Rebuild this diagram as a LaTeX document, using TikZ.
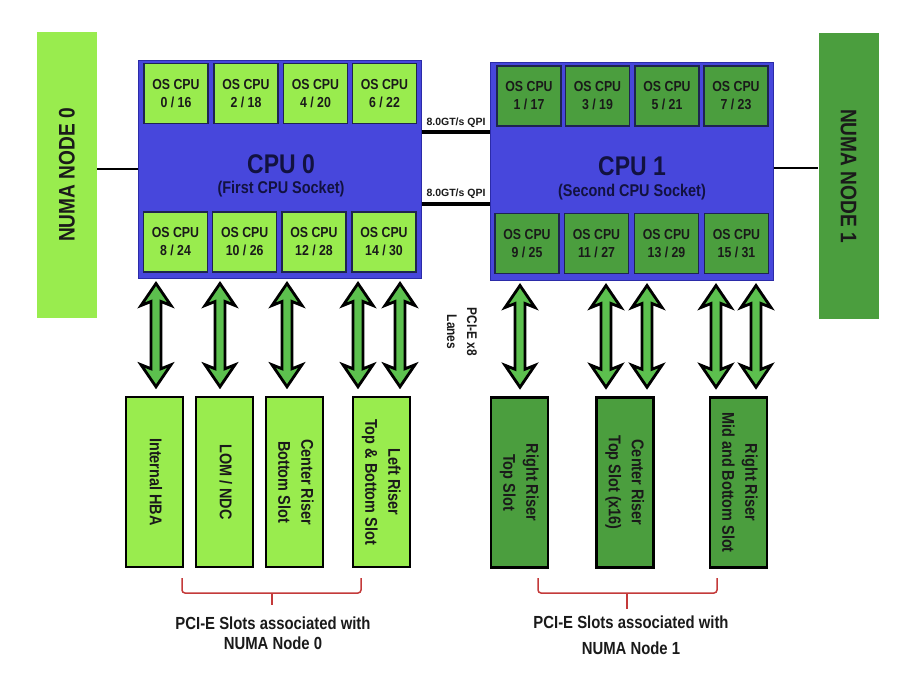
\documentclass[tikz,border=0pt]{standalone}
\usepackage{fontspec}
\setmainfont{Liberation Sans}
\newfontfamily\narrow{Liberation Sans}[FakeStretch=0.85]
\usetikzlibrary{calc}
\definecolor{lgreen}{HTML}{99EC4E}
\definecolor{dgreen}{HTML}{4B9E3E}
\definecolor{agreen}{HTML}{5CC04E}
\definecolor{cpublue}{HTML}{4747DC}
\definecolor{cpuedge}{HTML}{2B2BA8}
\definecolor{osedge}{HTML}{1E2550}
\definecolor{bracecol}{HTML}{C43A3A}
\definecolor{txt}{HTML}{1A1A1A}
\definecolor{cputxt}{HTML}{121240}
\newcommand\vtext[2]{\rotatebox{#1}{\begin{tabular}{@{}c@{}}#2\end{tabular}}}
\newcommand\dblarr[3]{\draw[fatarrow] let \p1=(#2.south), \p2=(#3.north) in
 (#1pt,\y1-5pt) -- (#1pt+15pt,\y1-27pt) -- (#1pt+5pt,\y1-23pt) --
 (#1pt+5pt,\y2+27pt) -- (#1pt+15pt,\y2+31pt) -- (#1pt,\y2+9pt) --
 (#1pt-15pt,\y2+31pt) -- (#1pt-5pt,\y2+27pt) -- (#1pt-5pt,\y1-23pt) --
 (#1pt-15pt,\y1-27pt) -- cycle;}
\begin{document}
\begin{tikzpicture}[x=1pt,y=-1pt,
  numabox/.style={minimum width=60pt, minimum height=286pt, inner sep=0pt,
    text=txt, font=\narrow\bfseries\fontsize{22.5}{27}\selectfont},
  cpubox/.style={draw=cpuedge, line width=1pt, fill=cpublue, minimum width=283pt,
    minimum height=218pt, inner sep=0pt},
  osbox/.style={draw=osedge, line width=1.3pt, minimum width=64pt, minimum height=60pt,
    inner sep=0pt, align=center, text=txt,
    font=\narrow\bfseries\fontsize{14.5}{18}\selectfont},
  osA/.style={osbox, fill=lgreen},
  osB/.style={osbox, fill=dgreen},
  cputitle/.style={text=cputxt, font=\narrow\bfseries\fontsize{27}{30}\selectfont},
  cpusub/.style={text=cputxt, font=\narrow\bfseries\fontsize{17}{20}\selectfont},
  slotbox/.style={draw=black, line width=2.5pt, minimum width=57pt, minimum height=170pt,
    inner sep=0pt, text=txt, font=\narrow\bfseries\fontsize{17}{23}\selectfont},
  slotA/.style={slotbox, fill=lgreen},
  slotB/.style={slotbox, fill=dgreen},
  fatarrow/.style={fill=agreen, draw=black, line width=2.8pt, line join=miter},
  qpiline/.style={draw=black, line width=3.5pt},
  numaline/.style={draw=black, line width=1.5pt},
  qpilabel/.style={text=txt, inner sep=1pt, font=\bfseries\fontsize{10.5}{12}\selectfont},
  lanelabel/.style={text=txt, inner sep=0pt, font=\narrow\bfseries\fontsize{14}{20}\selectfont},
  bracestyle/.style={draw=bracecol, line width=1.5pt, rounded corners=3pt},
  grouplabel/.style={text=txt, align=center, inner sep=0pt}
]
\fill[white] (0,0) rectangle (918,678);
\useasboundingbox (0,0) rectangle (918,678);

% NUMA nodes
\node[numabox, fill=lgreen] (numa0) at (67,175) {\rotatebox{90}{NUMA NODE 0}};
\node[numabox, fill=dgreen] (numa1) at (848.5,176) {\rotatebox{-90}{NUMA NODE 1}};

% CPU sockets
\node[cpubox] (cpu0) at (279.5,169) {};
\node[cpubox] (cpu1) at (631.5,171) {};

% OS CPU boxes, CPU 0
\node[osA] (o0)  at (176,93.5)   {OS CPU\\0 / 16};
\node[osA] (o2)  at (246,93.5)   {OS CPU\\2 / 18};
\node[osA] (o4)  at (315.5,93.5) {OS CPU\\4 / 20};
\node[osA] (o6)  at (384.5,93.5) {OS CPU\\6 / 22};
\node[osA] (o8)  at (175.5,242)  {OS CPU\\8 / 24};
\node[osA] (o10) at (244.7,242)  {OS CPU\\10 / 26};
\node[osA] (o12) at (314,242)    {OS CPU\\12 / 28};
\node[osA] (o14) at (384,242)    {OS CPU\\14 / 30};
% OS CPU boxes, CPU 1
\node[osB] (o1)  at (529,96)      {OS CPU\\1 / 17};
\node[osB] (o3)  at (597.5,96)    {OS CPU\\3 / 19};
\node[osB] (o5)  at (667,96)      {OS CPU\\5 / 21};
\node[osB] (o7)  at (736,96)      {OS CPU\\7 / 23};
\node[osB] (o9)  at (527,243.5)   {OS CPU\\9 / 25};
\node[osB] (o11) at (596.5,243.5) {OS CPU\\11 / 27};
\node[osB] (o13) at (666.5,243.5) {OS CPU\\13 / 29};
\node[osB] (o15) at (736.5,243.5) {OS CPU\\15 / 31};

% CPU titles
\node[cputitle] (c0t) at (281,164) {CPU 0};
\node[cpusub]   (c0s) at (281,189) {(First CPU Socket)};
\node[cputitle] (c1t) at (632,166) {CPU 1};
\node[cpusub]   (c1s) at (632,192) {(Second CPU Socket)};

% NUMA links
\draw[numaline] (numa0.east |- cpu0.west) -- (cpu0.west);
\draw[numaline] ([yshift=3pt]cpu1.east) -- ([yshift=3pt]cpu1.east -| numa1.west);

% QPI links
\draw[qpiline] ([yshift=37pt]cpu0.east) -- ([yshift=37pt]cpu0.east -| cpu1.west);
\draw[qpiline] ([yshift=-35pt]cpu0.east) -- ([yshift=-35pt]cpu0.east -| cpu1.west);
\node[qpilabel] (q1) at (456,122.5) {8.0GT/s QPI};
\node[qpilabel] (q2) at (456,193.5) {8.0GT/s QPI};

% PCI-E label
\node[lanelabel] (lanes) at (461,332) {\vtext{-90}{PCI-E x8\\Lanes}};

% Slots
\node[slotA] (s1) at (154.5,482) {\vtext{-90}{Internal HBA}};
\node[slotA] (s2) at (224.5,482) {\vtext{-90}{LOM / NDC}};
\node[slotA] (s3) at (294.5,482) {\vtext{-90}{Center Riser\\Bottom Slot}};
\node[slotA] (s4) at (381.5,482) {\vtext{-90}{Left Riser\\Top \& Bottom Slot}};
\node[slotB] (r1) at (519.5,482.5) {\vtext{-90}{Right Riser\\Top Slot}};
\node[slotB] (r2) at (625,482.5)   {\vtext{-90}{Center Riser\\Top Slot (x16)}};
\node[slotB] (r3) at (738.5,482.5) {\vtext{-90}{Right Riser\\Mid and Bottom Slot}};

% Double arrows (PCI-E lanes)
\dblarr{156}{cpu0}{s1}
\dblarr{220}{cpu0}{s2}
\dblarr{287}{cpu0}{s3}
\dblarr{358}{cpu0}{s4}
\dblarr{400}{cpu0}{s4}
\dblarr{520}{cpu1}{r1}
\dblarr{606}{cpu1}{r2}
\dblarr{647}{cpu1}{r2}
\dblarr{716}{cpu1}{r3}
\dblarr{756}{cpu1}{r3}

% Braces
\draw[bracestyle] (182,578) -- (182,593) -- (361,593) -- (361,578);
\draw[bracestyle] (272,593) -- (272,605);
\draw[bracestyle] (538,578) -- (538,593) -- (717,593) -- (717,578);
\draw[bracestyle] (627,593) -- (627,609);

% Group labels
\node[grouplabel, font=\narrow\bfseries\fontsize{17.5}{20.5}\selectfont] (g0) at (273,633)
  {PCI-E Slots associated with\\NUMA Node 0};
\node[grouplabel, font=\narrow\bfseries\fontsize{17.5}{26}\selectfont] (g1) at (631,635)
  {PCI-E Slots associated with\\NUMA Node 1};
\end{tikzpicture}
\end{document}
